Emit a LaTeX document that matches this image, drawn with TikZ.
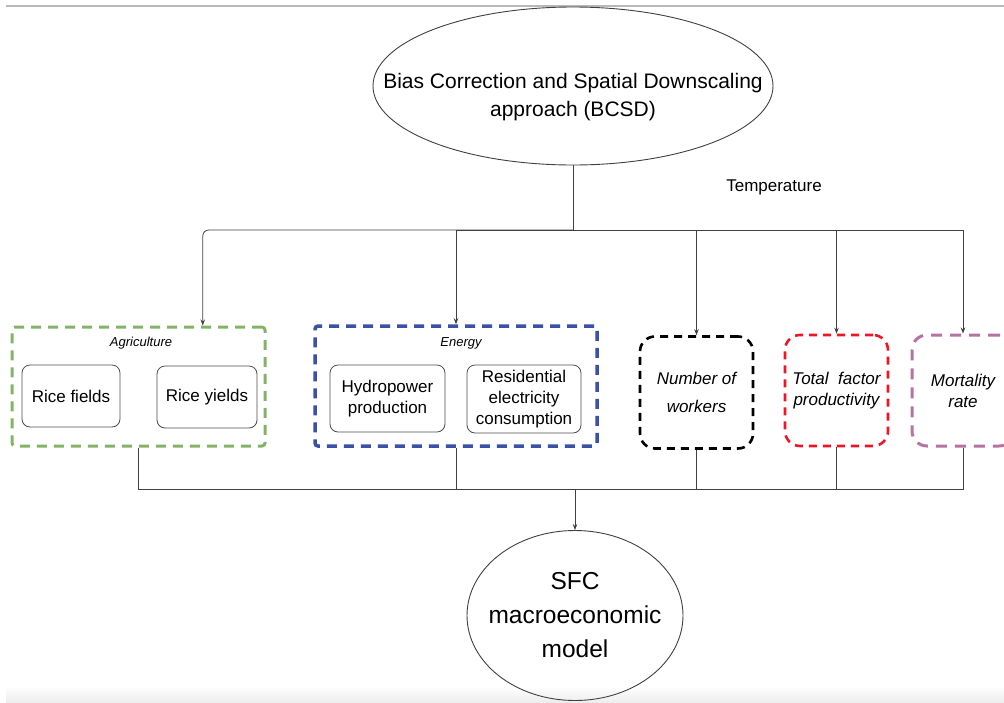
\documentclass[tikz,border=0pt]{standalone}
\usepackage{fontspec}
\setmainfont{Liberation Sans}
\usepackage{xcolor}
\usetikzlibrary{arrows.meta}
\usetikzlibrary{shapes.geometric}
\usetikzlibrary{calc}

\definecolor{agrigreen}{RGB}{130,179,102}
\definecolor{energyblue}{RGB}{59,80,168}
\definecolor{tfpred}{RGB}{238,22,38}
\definecolor{mortpurple}{RGB}{181,115,160}

\begin{document}
\begin{tikzpicture}[x=1pt,y=-1pt,
    conn/.style={draw=black!75,line width=0.8pt},
    arr/.style={conn,-{Stealth[length=6pt,width=4.5pt]}},
    oval/.style={ellipse,draw=black!75,line width=0.9pt,inner xsep=-60pt,inner ysep=0pt,align=center},
    itembox/.style={draw=black!70,rounded corners=8pt,line width=0.8pt,inner sep=0pt,
        align=center,font=\fontsize{17}{21}\selectfont},
    groupbox/.style={rectangle,rounded corners=3pt,line width=3pt,inner sep=0pt},
    factorbox/.style={rectangle,rounded corners=15pt,line width=2.6pt,inner sep=0pt,
        align=center,font=\itshape\fontsize{17}{21}\selectfont},
    grouplabel/.style={font=\itshape\fontsize{13}{15}\selectfont}]
        \useasboundingbox (0,0) rectangle (1004,702);
        \clip (0,0) rectangle (1004,702);
        % page edges
        \shade[top color=white,bottom color=gray!14] (6,686) rectangle (1004,702);
        \draw[gray!55,line width=1.2pt] (6,6) -- (1004,6);

        % ovals
        \node[oval,minimum width=400pt,minimum height=158pt] (bcsd) at (573,86) {};
        \node[align=center,font=\fontsize{21}{28}\selectfont] (bcsdtext) at (573,97)
            {Bias Correction and Spatial Downscaling\\approach (BCSD)};
        \node[oval,inner xsep=-20pt,minimum width=216pt,minimum height=170pt,
            font=\fontsize{24.5}{34}\selectfont] (sfc) at (575,615.5)
            {SFC\\macroeconomic\\model};
        \node[font=\fontsize{17}{20}\selectfont] (temp) at (774,187) {Temperature};

        % agriculture
        \node[groupbox,draw=agrigreen,dash pattern=on 10pt off 7pt,
            minimum width=253pt,minimum height=119pt] (agri) at (138.5,386.5) {};
        \node[grouplabel] (agrilbl) at (141,343) {Agriculture};
        \node[itembox,minimum width=98pt,minimum height=62pt] (ricefields) at (71,396) {Rice fields};
        \node[itembox,minimum width=100pt,minimum height=62pt] (riceyields) at (207,397) {Rice yields};

        % energy
        \node[groupbox,draw=energyblue,line width=3.5pt,dash pattern=on 10pt off 7pt,
            minimum width=282pt,minimum height=120pt] (energy) at (456,386) {};
        \node[grouplabel] (energylbl) at (461,343) {Energy};
        \node[itembox,minimum width=115pt,minimum height=67pt] (hydro) at (387.5,398.5)
            {Hydropower\\production};
        \node[itembox,minimum width=114pt,minimum height=68pt] (resid) at (524,399)
            {Residential\\electricity\\consumption};

        % other channels
        \node[factorbox,draw=black,dash pattern=on 8pt off 6pt,font=\itshape\fontsize{17}{28}\selectfont,
            minimum width=113pt,minimum height=112pt] (workers) at (696.5,392.5) {Number of\\workers};
        \node[factorbox,draw=tfpred,dash pattern=on 8pt off 6pt,
            minimum width=103pt,minimum height=111pt] (tfp) at (836.5,390.5) {Total~ factor\\productivity};
        \node[factorbox,draw=mortpurple,line width=3pt,dash pattern=on 11pt off 8pt,
            minimum width=102pt,minimum height=111pt] (mort) at (963,390.5) {Mortality\\rate};

        % temperature links
        \coordinate (split) at (573,230);
        \coordinate (agritop) at ($(agri.north west)!0.751!(agri.north east)$);
        \draw[conn] (bcsd.south) -- (split);
        \draw[arr,rounded corners=6pt] (split) -| (agritop);
        \foreach \n in {energy,workers,tfp,mort}{
            \draw[arr] (split) -| (\n.north);
        }

        % links to model
        \coordinate (merge) at (575,489);
        \foreach \n in {agri,energy,workers,tfp,mort}{
            \draw[conn] (\n.south) |- (merge);
        }
        \draw[arr] (merge) -- (sfc.north);
    \end{tikzpicture}
\end{document}
